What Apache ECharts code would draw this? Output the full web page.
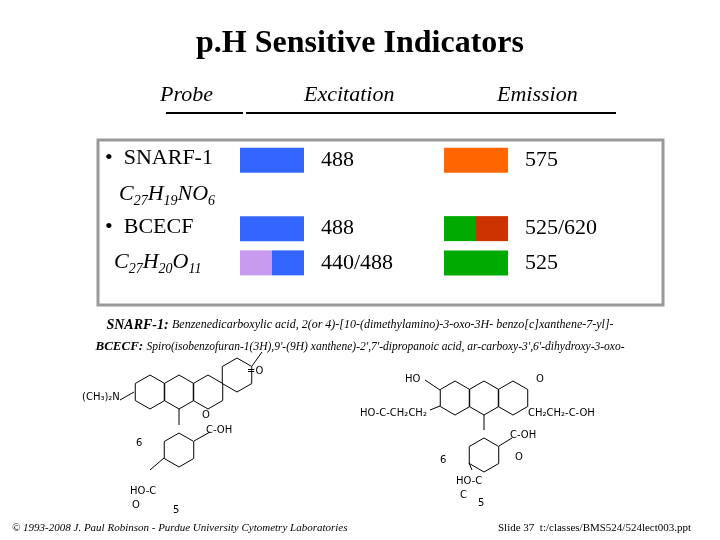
<!DOCTYPE html>
<html><head><meta charset="utf-8">
<script src="https://cdn.jsdelivr.net/npm/echarts@6/dist/echarts.min.js"></script>
<style>html,body{margin:0;background:#fff}#c{width:720px;height:540px}</style>
</head><body><div id="c"></div>
<script>
const rows = ['SNARF-1', 'SNARF-1 formula', 'BCECF', 'BCECF formula'];
const columns = ['Excitation', 'Emission'];
const swatchRows = ['SNARF-1', 'BCECF', 'BCECF formula'];
const excitationLabels = ['488', '488', '440/488'];
const emissionLabels = ['575', '525/620', '525'];
const excitationColors = [['#3366ff'], ['#3366ff'], ['#c89bf0', '#3366ff']];
const emissionColors = [['#ff6600'], ['#00aa00', '#cc3300'], ['#00aa00']];

const serif = 'Liberation Serif, DejaVu Serif, serif';
const data = [];
swatchRows.forEach((r, i) => {
  data.push([columns[0], r, excitationLabels[i], excitationColors[i].join(',')]);
  data.push([columns[1], r, emissionLabels[i], emissionColors[i].join(',')]);
});

function hex(cx, cy, r) {
  const p = [];
  for (let k = 0; k < 7; k++) { const a = Math.PI / 6 + k * Math.PI / 3; p.push([cx + r * Math.cos(a), cy + r * Math.sin(a)]); }
  return p;
}
function ring(cx, cy) { return { type: 'polyline', shape: { points: hex(cx, cy, 17) }, style: { stroke: '#000', lineWidth: 1, fill: null } }; }
function line(x1, y1, x2, y2) { return { type: 'line', shape: { x1, y1, x2, y2 }, style: { stroke: '#000', lineWidth: 1 } }; }
function lbl(x, y, t) { return { type: 'text', x, y, style: { text: t, font: '10px DejaVu Sans', fill: '#000' } }; }

const chem = [
  ring(150, 392), ring(179, 392), ring(208, 392), ring(237, 375),
  line(120, 400, 134, 392), lbl(82, 392, '(CH₃)₂N'), line(252, 366, 262, 352), lbl(247, 366, '=O'),
  line(179, 409, 179, 425), ring(179, 450), line(194, 441, 210, 432), lbl(206, 425, 'C-OH'), lbl(202, 410, 'O'),
  line(164, 458, 150, 470), lbl(130, 486, 'HO-C'), lbl(132, 500, 'O'), lbl(136, 438, '6'), lbl(173, 505, '5'),
  ring(455, 398), ring(484, 398), ring(513, 398), lbl(405, 374, 'HO'), line(425, 380, 440, 390), lbl(536, 374, 'O'),
  lbl(360, 408, 'HO-C-CH₂CH₂'), line(430, 410, 440, 406), lbl(528, 408, 'CH₂CH₂-C-OH'),
  line(484, 415, 484, 430), ring(484, 455), line(499, 446, 512, 438), lbl(510, 430, 'C-OH'), lbl(515, 452, 'O'),
  line(469, 463, 472, 470), lbl(456, 476, 'HO-C'), lbl(460, 490, 'C'), lbl(440, 455, '6'), lbl(478, 498, '5')
];

const chart = echarts.init(document.getElementById('c'), null, { renderer: 'canvas' });
chart.setOption({
  backgroundColor: '#fff',
  animation: false,
  grid: { left: 170, width: 408, top: 143, height: 137 },
  xAxis: { type: 'category', data: columns, show: false },
  yAxis: { type: 'category', data: rows, inverse: true, show: false },
  graphic: [
    { type: 'text', left: 'center', top: 28, style: { text: 'p.H Sensitive Indicators', font: 'bold 32px ' + serif, fill: '#000' } },
    { type: 'text', x: 160, y: 84, style: { text: 'Probe', font: 'italic 22px ' + serif, fill: '#000' } },
    { type: 'text', x: 304, y: 84, style: { text: 'Excitation', font: 'italic 22px ' + serif, fill: '#000' } },
    { type: 'text', x: 497, y: 84, style: { text: 'Emission', font: 'italic 22px ' + serif, fill: '#000' } },
    { type: 'line', shape: { x1: 166, y1: 113, x2: 243, y2: 113 }, style: { stroke: '#000', lineWidth: 2 } },
    { type: 'line', shape: { x1: 246, y1: 113, x2: 616, y2: 113 }, style: { stroke: '#000', lineWidth: 2 } },
    { type: 'rect', shape: { x: 98, y: 140, width: 565, height: 165 }, style: { fill: null, stroke: '#999', lineWidth: 3 } },
    { type: 'text', x: 105, y: 147, style: { text: '•  SNARF-1', font: '22px ' + serif, fill: '#000' } },
    { type: 'text', x: 105, y: 216, style: { text: '•  BCECF', font: '22px ' + serif, fill: '#000' } },
    { type: 'text', x: 119, y: 180, style: { text: '{m|C}{s|27}{m|H}{s|19}{m|NO}{s|6}', font: 'italic 22px ' + serif,
      rich: { m: { font: 'italic 22px ' + serif, fill: '#000' }, s: { font: 'italic 14px ' + serif, fill: '#000', padding: [14, 0, 0, 0] } } } },
    { type: 'text', x: 114, y: 248, style: { text: '{m|C}{s|27}{m|H}{s|20}{m|O}{s|11}', font: 'italic 22px ' + serif,
      rich: { m: { font: 'italic 22px ' + serif, fill: '#000' }, s: { font: 'italic 14px ' + serif, fill: '#000', padding: [14, 0, 0, 0] } } } },
    { type: 'text', left: 'center', top: 318, style: { text: '{b|SNARF-1:} {i|Benzenedicarboxylic acid, 2(or 4)-[10-(dimethylamino)-3-oxo-3H- benzo[c]xanthene-7-yl]-}',
      rich: { b: { font: 'bold italic 14px ' + serif, fill: '#000' }, i: { font: 'italic 12px ' + serif, fill: '#000' } } } },
    { type: 'text', left: 'center', top: 340, style: { text: "{b|BCECF:} {i|Spiro(isobenzofuran-1(3H),9'-(9H) xanthene)-2',7'-dipropanoic acid, ar-carboxy-3',6'-dihydroxy-3-oxo-}",
      rich: { b: { font: 'bold italic 13px ' + serif, fill: '#000' }, i: { font: 'italic 11.5px ' + serif, fill: '#000' } } } },
    { type: 'text', x: 12, y: 523, style: { text: '© 1993-2008 J. Paul Robinson - Purdue University Cytometry Laboratories', font: 'italic 11px ' + serif, fill: '#000' } },
    { type: 'text', x: 498, y: 523, style: { text: 'Slide 37  t:/classes/BMS524/524lect003.ppt', font: '11px ' + serif, fill: '#000' } }
  ].concat(chem),
  series: [{
    type: 'custom',
    data: data,
    encode: { x: 0, y: 1 },
    renderItem: function (params, api) {
      const item = data[params.dataIndex];
      const c = api.coord([item[0], item[1]]);
      const colors = item[3].split(',');
      const w = 64, h = 25, x0 = c[0] - w / 2, y0 = c[1] - h / 2;
      const seg = w / colors.length;
      const children = colors.map((col, k) => ({ type: 'rect', shape: { x: x0 + k * seg, y: y0, width: seg, height: h }, style: { fill: col } }));
      children.push({ type: 'text', style: { text: item[2], x: x0 + w + 17, y: c[1], verticalAlign: 'middle', font: '22px ' + serif, fill: '#000' } });
      return { type: 'group', children };
    }
  }]
});
</script></body></html>
